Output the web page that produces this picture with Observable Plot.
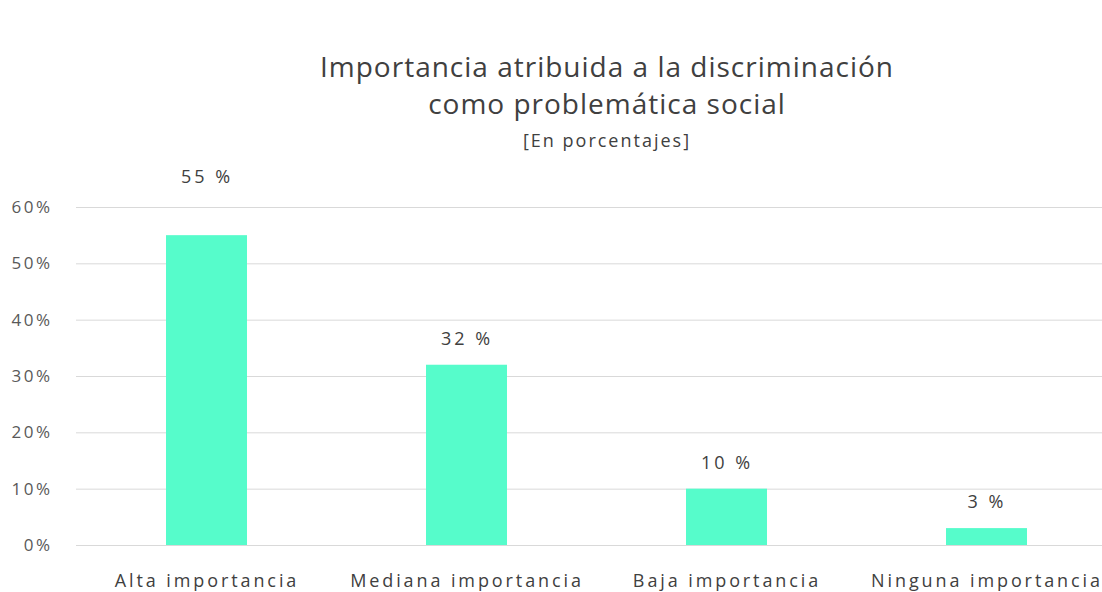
<!DOCTYPE html>
<html><head><meta charset="utf-8">
<script src="https://cdn.jsdelivr.net/npm/d3@7"></script>
<script src="https://cdn.jsdelivr.net/npm/@observablehq/plot@0.6"></script>
<style>
html,body{margin:0;padding:0;background:#fff;}
#wrap{width:1102px;height:592px;overflow:hidden;font-family:"Open Sans",sans-serif;}
#t1{height:150px;text-align:center;color:#404040;padding-left:112px;box-sizing:border-box;}
#t1 .a{font-size:28px;line-height:37px;padding-top:48px;letter-spacing:1px;}
#t1 .b{font-size:18px;line-height:22px;margin-top:7px;letter-spacing:2px;}
svg{display:block;}
g[aria-label="y-axis tick label"] text{letter-spacing:2.5px;}
g[aria-label="x-axis tick label"] text{letter-spacing:2.9px;}
g[aria-label="text"] text{letter-spacing:3px;}
</style></head><body>
<div id="wrap">
<div id="t1"><div class="a">Importancia atribuida a la discriminación<br>como problemática social</div><div class="b">[En porcentajes]</div></div>
<div id="chart"></div>
</div>
<script>
const categories = ["Alta importancia","Mediana importancia","Baja importancia","Ninguna importancia"];
const values = [55, 32, 10, 3];
const yTicks = [0,10,20,30,40,50,60];
const data = categories.map((c,i)=>({cat:c, v:values[i]}));
const chart = Plot.plot({
  width:1102, height:442,
  marginLeft:76, marginRight:-14, marginTop:57, marginBottom:47,
  style:{fontFamily:"Open Sans, sans-serif", background:"#fff"},
  x:{domain:categories, paddingInner:0.69, paddingOuter:0.345, label:null},
  y:{domain:[0,60], label:null},
  marks:[
    Plot.gridY(yTicks,{stroke:"#d9d9d9", strokeOpacity:1, strokeWidth:1}),
    Plot.barY(data,{x:"cat", y:"v", fill:"#56FCCB"}),
    Plot.axisY({ticks:yTicks, tickSize:0, tickPadding:24, tickFormat:d=>d+"%", fontSize:17, fill:"#595959"}),
    Plot.axisX({tickSize:0, tickPadding:29, fontSize:18, fill:"#404040"}),
    Plot.text(data.filter(d=>d.v>50),{x:"cat", y:"v", text:d=>d.v+" %", dy:-58, fontSize:18, fill:"#404040"}),
    Plot.text(data.filter(d=>d.v<=50),{x:"cat", y:"v", text:d=>d.v+" %", dy:-26, fontSize:18, fill:"#404040"})
  ]
});
document.getElementById("chart").appendChild(chart);
</script>
</body></html>
